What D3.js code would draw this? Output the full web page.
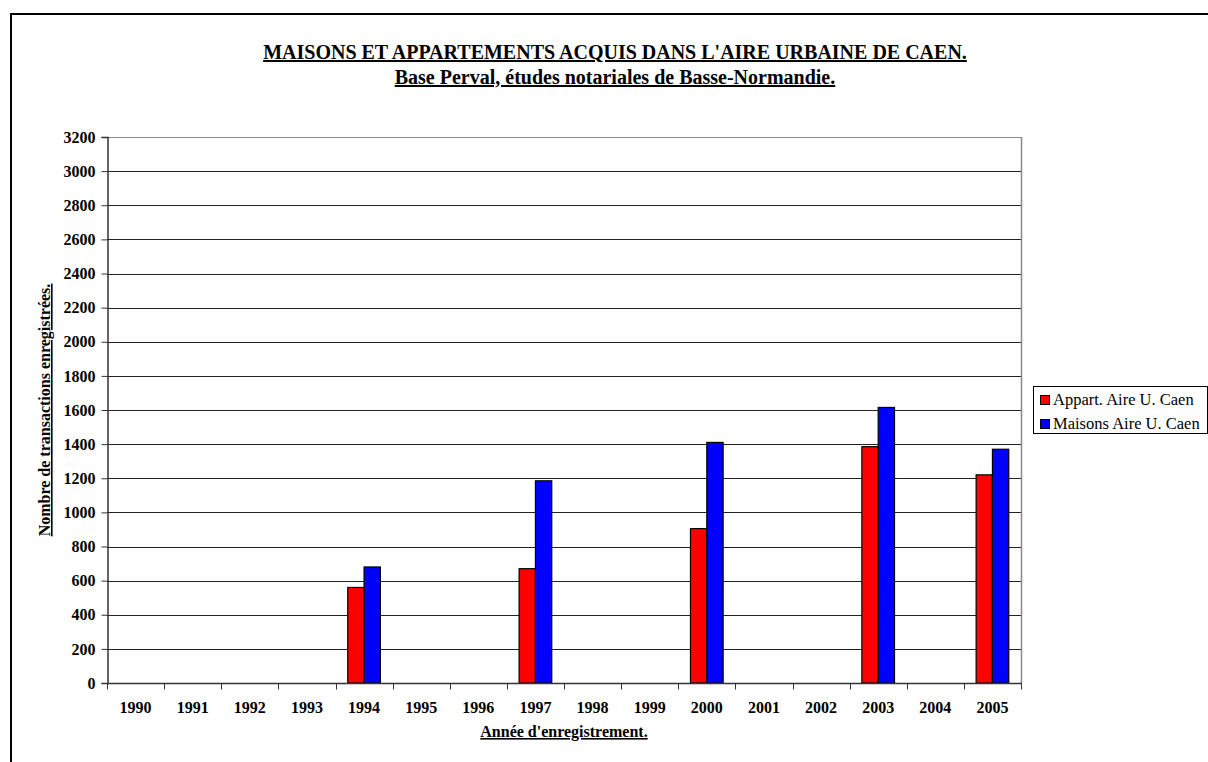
<!DOCTYPE html>
<html>
<head>
<meta charset="utf-8">
<script src="https://cdn.jsdelivr.net/npm/d3@7"></script>
<style>
  html, body { margin: 0; padding: 0; background: #fff; }
  svg { display: block; }
  text { font-family: "Liberation Serif", "Times New Roman", serif; }
</style>
</head>
<body>
<svg id="chart" width="1208" height="762"></svg>
<script>
// Transactions recorded per year (Perval database)
const years = ["1990","1991","1992","1993","1994","1995","1996","1997","1998","1999","2000","2001","2002","2003","2004","2005"];
const appartValues = [null, null, null, null, 560, null, null, 670, null, null, 905, null, null, 1385, null, 1220];
const maisonsValues = [null, null, null, null, 680, null, null, 1185, null, null, 1410, null, null, 1615, null, 1370];
const seriesNames = ["Appart. Aire U. Caen", "Maisons Aire U. Caen"];
const seriesColors = ["#ff0000", "#0000ff"];
const yTicks = [0,200,400,600,800,1000,1200,1400,1600,1800,2000,2200,2400,2600,2800,3000,3200];

const svg = d3.select("#chart");
const W = 1208, H = 762;

// outer frame
svg.append("rect").attr("x", 11).attr("y", 14).attr("width", W + 10).attr("height", H + 10)
  .attr("fill", "none").attr("stroke", "#000").attr("stroke-width", 2);

const plot = { left: 107, right: 1021, top: 137, bottom: 683 };

const x = d3.scaleBand().domain(years).range([plot.left, plot.right]).padding(0);
const y = d3.scaleLinear().domain([0, 3200]).range([plot.bottom, plot.top]);
// two bars per category with a 150% gap between groups
const barW = x.bandwidth() / 3.5;

// gridlines
svg.append("g").selectAll("line").data(yTicks.filter(d => d > 0)).join("line")
  .attr("x1", plot.left).attr("x2", plot.right)
  .attr("y1", d => Math.round(y(d)) + 0.5).attr("y2", d => Math.round(y(d)) + 0.5)
  .attr("stroke", d => d === 3200 ? "#888" : "#222").attr("stroke-width", 1);

// plot right edge
svg.append("line").attr("x1", plot.right + 0.5).attr("x2", plot.right + 0.5)
  .attr("y1", plot.top).attr("y2", plot.bottom).attr("stroke", "#888").attr("stroke-width", 1.5);

// bars
const allSeries = [appartValues, maisonsValues];
allSeries.forEach((vals, si) => {
  svg.append("g").selectAll("rect")
    .data(years.map((yr, i) => ({ yr, v: vals[i] })).filter(d => d.v != null))
    .join("rect")
    .attr("x", d => x(d.yr) + barW * 0.75 + si * barW)
    .attr("y", d => y(d.v))
    .attr("width", barW)
    .attr("height", d => y(0) - y(d.v))
    .attr("fill", seriesColors[si])
    .attr("stroke", "#000").attr("stroke-width", 1.2);
});

// y axis
const yAxis = d3.axisLeft(y).tickValues(yTicks).tickSize(6).tickPadding(6).tickFormat(d3.format("d"));
const gy = svg.append("g").attr("transform", `translate(${plot.left + 0.5},0)`).call(yAxis);
gy.select(".domain").attr("stroke", "#333").attr("stroke-width", 1.5);
gy.selectAll(".tick line").attr("stroke", "#333");
gy.selectAll(".tick text").attr("font-size", 16).attr("font-weight", "bold")
  .attr("font-family", "Liberation Serif").attr("fill", "#000");

// x axis: ticks at category boundaries
const gx = svg.append("g").attr("transform", `translate(0,${plot.bottom + 0.5})`);
gx.append("line").attr("x1", plot.left).attr("x2", plot.right + 1)
  .attr("stroke", "#333").attr("stroke-width", 1.5);
const boundaries = years.map(yr => x(yr)).concat([plot.right]);
gx.selectAll("line.tk").data(boundaries).join("line").attr("class", "tk")
  .attr("x1", d => Math.round(d) + 0.5).attr("x2", d => Math.round(d) + 0.5)
  .attr("y1", 0).attr("y2", 6).attr("stroke", "#333");
gx.selectAll("text").data(years).join("text")
  .attr("x", d => x(d) + x.bandwidth() / 2).attr("y", 29)
  .attr("text-anchor", "middle").attr("font-size", 16).attr("font-weight", "bold").text(d => d);

// titles
const title = svg.append("text").attr("x", 615).attr("text-anchor", "middle")
  .attr("font-size", 20).attr("font-weight", "bold").attr("text-decoration", "underline");
title.append("tspan").attr("x", 615).attr("y", 59).text("MAISONS ET APPARTEMENTS ACQUIS DANS L'AIRE URBAINE DE CAEN.");
title.append("tspan").attr("x", 615).attr("y", 84).text("Base Perval, études notariales de Basse-Normandie.");

svg.append("text").attr("x", 564).attr("y", 737).attr("text-anchor", "middle")
  .attr("font-size", 16).attr("font-weight", "bold").attr("text-decoration", "underline")
  .text("Année d'enregistrement.");

svg.append("text").attr("transform", "translate(50,410) rotate(-90)").attr("text-anchor", "middle")
  .attr("font-size", 16).attr("font-weight", "bold").attr("text-decoration", "underline")
  .text("Nombre de transactions enregistrées.");

// legend
const lg = svg.append("g");
lg.append("rect").attr("x", 1033.5).attr("y", 386.5).attr("width", 174).attr("height", 47)
  .attr("fill", "#fff").attr("stroke", "#000").attr("stroke-width", 1);
seriesNames.forEach((name, i) => {
  lg.append("rect").attr("x", 1040.5).attr("y", 395.5 + i * 24).attr("width", 9).attr("height", 9)
    .attr("fill", seriesColors[i]).attr("stroke", "#000").attr("stroke-width", 1);
  lg.append("text").attr("x", 1053).attr("y", 404.5 + i * 24).attr("font-size", 16.5).text(name);
});
</script>
</body>
</html>
